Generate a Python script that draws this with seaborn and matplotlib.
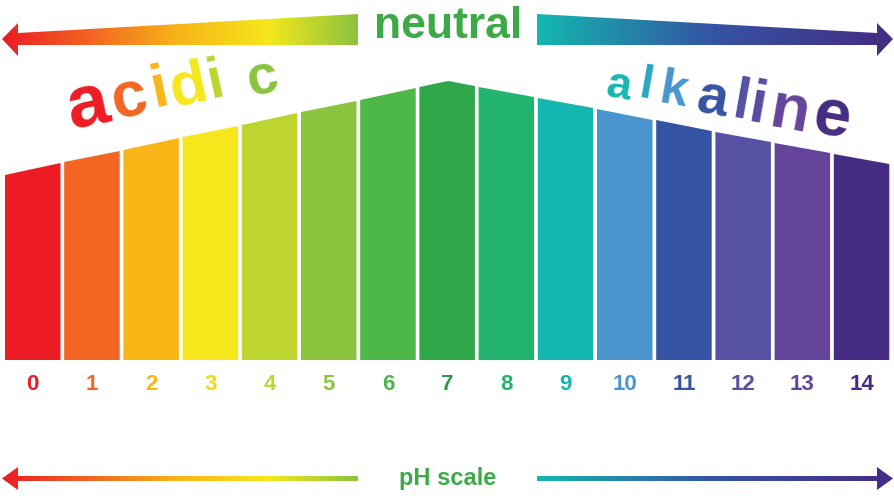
import numpy as np
import matplotlib.pyplot as plt
import seaborn as sns
from matplotlib.colors import LinearSegmentedColormap
from matplotlib.patches import Polygon

sns.set_style("white")
plt.rcParams['font.family'] = ['Liberation Sans', 'DejaVu Sans']

# pH values and bar colours
ph = list(range(15))
colors = ['#ED1C24', '#F26522', '#F8B617', '#F5E71C', '#BDD431', '#8BC43F', '#4DB748',
          '#2FA84A', '#22B36F', '#13B7B0', '#4A95CE', '#3553A3', '#5651A3', '#65449B', '#452C82']
label_colors = colors[:]
label_colors[3] = '#F2D51A'
label_colors[7] = '#2C9A44'
# bar heights (px) at left and right edge of each bar, peak of bar 7
h_left = [185, 198, 210, 223, 235, 248, 260, 273, 273, 262, 251, 240, 228, 217, 206]
h_right = [197, 209, 222, 234, 247, 259, 272, 274, 263, 252, 240, 229, 218, 207, 196]
peak_h = 279

fig = plt.figure(figsize=(8.95, 4.96), dpi=100)
ax = fig.add_axes([0, 0, 1, 1])
ax.set_xlim(0, 895)
ax.set_ylim(496, 0)
ax.axis('off')

base = 360
step, w, x0 = 59.2, 55.5, 5
for i, v in enumerate(ph):
    xl = x0 + i * step
    xr = xl + w
    if i == 7:
        pts = [(xl, base), (xl, base - h_left[i]), (448, base - peak_h),
               (xr, base - h_right[i]), (xr, base)]
    else:
        pts = [(xl, base), (xl, base - h_left[i]), (xr, base - h_right[i]), (xr, base)]
    ax.add_patch(Polygon(pts, closed=True, fc=colors[i], ec='none'))
    ax.text((xl + xr) / 2, 385, str(v), ha='center', va='center', fontsize=16,
            fontweight='bold', color=label_colors[i])


def grad_arrow(pts, cols):
    cmap = LinearSegmentedColormap.from_list('g', cols)
    poly = Polygon(pts, closed=True, fc='none', ec='none')
    ax.add_patch(poly)
    xs = [p[0] for p in pts]
    ys = [p[1] for p in pts]
    grad = np.linspace(0, 1, 256).reshape(1, -1)
    im = ax.imshow(grad, cmap=cmap, aspect='auto',
                   extent=(min(xs), max(xs), max(ys), min(ys)), zorder=2)
    im.set_clip_path(poly)


left_cols = ['#ED1C24', '#F26522', '#F8B617', '#F5E71C', '#8BC43F']
right_cols = ['#13B7B0', '#3553A3', '#452C82']
# top arrows
grad_arrow([(358, 14), (358, 45), (18, 45), (18, 56), (2, 39), (18, 23), (18, 33)], left_cols)
grad_arrow([(537, 14), (537, 45), (877, 45), (877, 56), (893, 39), (877, 23), (877, 33)], right_cols)
# bottom arrows
grad_arrow([(358, 476), (358, 481), (18, 481), (18, 490), (2, 478.5), (18, 467), (18, 476)],
           left_cols)
grad_arrow([(537, 476), (537, 481), (877, 481), (877, 490), (893, 478.5), (877, 467), (877, 476)],
           right_cols)

ax.text(448, 27, 'neutral', ha='center', va='center', fontsize=32, fontweight='bold',
        color='#3DAA47', family=['Liberation Sans Narrow', 'Liberation Sans'])
ax.text(448, 478, 'pH scale', ha='center', va='center', fontsize=17, fontweight='bold',
        color='#3DAA47')

# acidic letters
acid = list('acidic')
acid_cols = ['#ED1C24', '#F26522', '#F8B617', '#F5E71C', '#BDD431', '#8BC43F']
acid_x = [88, 129, 160, 188, 216, 263]
acid_y = [106, 99, 90, 87, 82, 80]
acid_s = [54, 46, 44, 44, 42, 40]
for ch, c, x, y, s in zip(acid, acid_cols, acid_x, acid_y, acid_s):
    ax.text(x, y, ch, ha='center', va='center', fontsize=s, fontweight='bold', color=c,
            rotation=12)

alk = list('alkaline')
alk_cols = ['#13B7B0', '#2AA6C4', '#4A95CE', '#3553A3', '#5651A3', '#5A4AA0', '#65449B', '#452C82']
alk_x = [619, 646, 673, 712, 741, 758, 790, 832]
alk_y = [87, 86, 92, 100, 104, 107, 113, 119]
alk_s = [32, 34, 36, 40, 42, 44, 46, 48]
for ch, c, x, y, s in zip(alk, alk_cols, alk_x, alk_y, alk_s):
    ax.text(x, y, ch, ha='center', va='center', fontsize=s, fontweight='bold', color=c,
            rotation=-10)

fig.savefig('out.png', dpi=100)
